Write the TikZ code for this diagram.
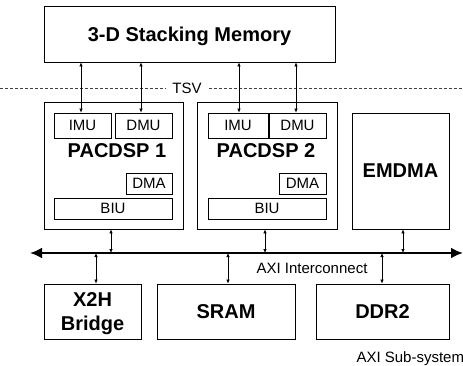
\documentclass[tikz,border=0pt]{standalone}
\usepackage{fontspec}
\setmainfont{Liberation Sans}
\usetikzlibrary{arrows.meta}

\begin{document}
\begin{tikzpicture}[x=1pt, y=-1pt, >={Latex[length=4pt,width=3.5pt]},
	blk/.style={draw, line width=0.8pt, inner sep=0pt, align=center, text depth=0pt, font=\fontsize{20}{24}\selectfont\bfseries},
	unit/.style={draw, line width=0.8pt, inner sep=0pt, font=\fontsize{15}{17}\selectfont},
	lbl/.style={font=\fontsize{15}{17}\selectfont},
	link/.style={<->, line width=0.6pt}]
	\useasboundingbox (0,0) rectangle (463,366);
	% stacked memory and the TSV layer
	\node[blk, minimum width=291pt, minimum height=56pt] (mem) at (189.5,34) {3-D Stacking Memory};
	\node[lbl, inner xsep=7pt] (tsv) at (187,88) {TSV};
	\coordinate (tsvL) at (0,88);
	\coordinate (tsvR) at (463,88);
	\draw[black!75, line width=0.6pt, dash pattern=on 3pt off 2pt] (tsvL) -- (tsv.west) (tsv.east) -- (tsvR);
	% the two DSP cores
	\node[draw, line width=0.8pt, minimum width=139pt, minimum height=127pt] (p1) at (113.5,165.5) {};
	\node[unit, minimum width=57pt, minimum height=25pt] (imu1) at (82.5,125.5) {IMU};
	\node[unit, minimum width=57pt, minimum height=25pt] (dmu1) at (143.5,125.5) {DMU};
	\node[font=\fontsize{20}{24}\selectfont\bfseries] (lab1) at (117,151) {PACDSP 1};
	\node[unit, minimum width=46pt, minimum height=21pt] (dma1) at (149,183.5) {DMA};
	\node[unit, minimum width=118pt, minimum height=21pt] (biu1) at (113,208.5) {BIU};
	\node[draw, line width=0.8pt, minimum width=140pt, minimum height=127pt] (p2) at (267,165.5) {};
	\node[unit, minimum width=60pt, minimum height=25pt] (imu2) at (238,125.5) {IMU};
	\node[unit, minimum width=57pt, minimum height=25pt] (dmu2) at (297.5,125.5) {DMU};
	\node[font=\fontsize{20}{24}\selectfont\bfseries] (lab2) at (266,151) {PACDSP 2};
	\node[unit, minimum width=47pt, minimum height=21pt] (dma2) at (302.5,183.5) {DMA};
	\node[unit, minimum width=118pt, minimum height=21pt] (biu2) at (267,208.5) {BIU};
	\node[blk, minimum width=97pt, minimum height=116pt] (emdma) at (400.5,171) {EMDMA};
	% AXI bus
	\coordinate (busL) at (30,253);
	\coordinate (busR) at (463,253);
	\draw[line width=2.5pt, {Latex[length=12pt,width=11pt]}-{Latex[length=12pt,width=11pt]}] (busL) -- (busR);
	\node[lbl] (axi) at (312,268) {AXI Interconnect};
	% slaves
	\node[blk, minimum width=97pt, minimum height=55pt] (x2h) at (92.5,311.5) {X2H\\Bridge};
	\node[blk, minimum width=138pt, minimum height=55pt] (sram) at (226,311.5) {SRAM};
	\node[blk, minimum width=133pt, minimum height=55pt] (ddr2) at (382.5,311.5) {DDR2};
	\node[lbl, anchor=base west] (sub) at (353,362) {AXI Sub-system};
	% connections
	\foreach \m/\dx in {imu1/-1.5, dmu1/-2.5, imu2/1, dmu2/-1.5}
		\draw[link] ([xshift=\dx pt]mem.south -| \m.north) -- ([xshift=\dx pt]\m.north);
	\foreach \m/\dx in {p1/-2.5, p2/-2, emdma/2.5}
		\draw[link] ([xshift=\dx pt]\m.south) -- ([xshift=\dx pt]\m.south |- busL);
	\foreach \m/\dx in {x2h/3.5, sram/2, ddr2/-0.5}
		\draw[link] ([xshift=\dx pt]\m.north |- busL) -- ([xshift=\dx pt]\m.north);
\end{tikzpicture}
\end{document}
